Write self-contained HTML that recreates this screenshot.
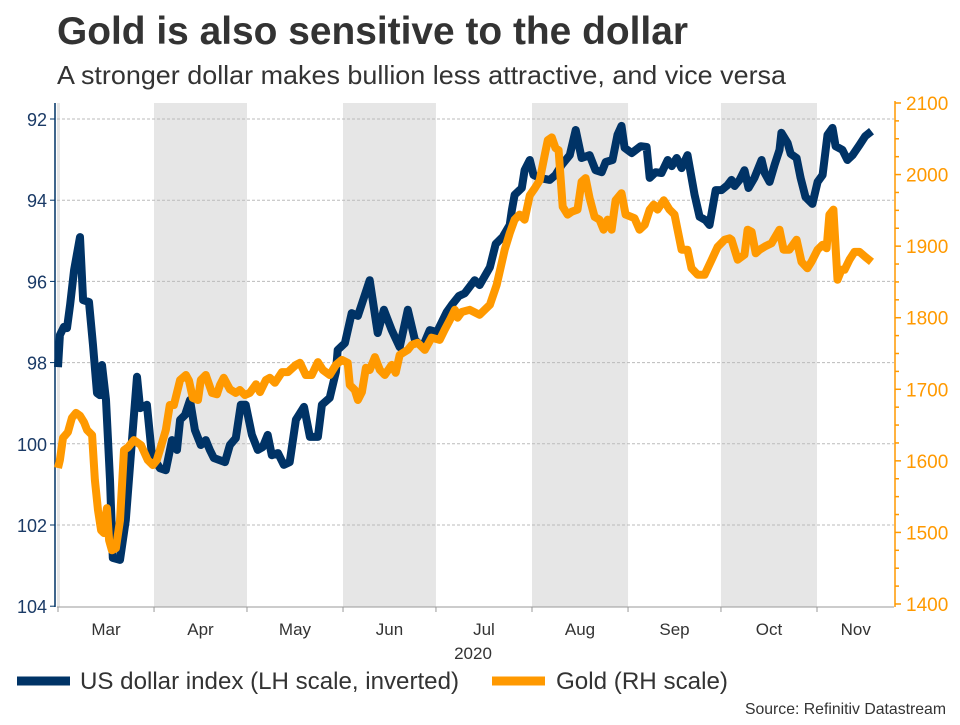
<!DOCTYPE html>
<html><head><meta charset="utf-8"><style>
body{margin:0;background:#fff;width:960px;height:720px;overflow:hidden;font-family:"Liberation Sans",Arial,sans-serif}
</style></head><body>
<svg id="chart" width="960" height="720" xmlns="http://www.w3.org/2000/svg" font-family="Liberation Sans, Arial, sans-serif">
<text x="57" y="44" font-size="38.8" font-weight="bold" fill="#333" textLength="631" lengthAdjust="spacingAndGlyphs">Gold is also sensitive to the dollar</text>
<text x="57" y="84" font-size="26" fill="#333" textLength="729" lengthAdjust="spacingAndGlyphs">A stronger dollar makes bullion less attractive, and vice versa</text>
<g id="bands"></g><g id="grid"></g><g id="axes"></g><g id="series"></g>
<text x="473" y="659" font-size="17" fill="#333" text-anchor="middle">2020</text>
<line x1="17" y1="681" x2="70" y2="681" stroke="#003366" stroke-width="9"/>
<text x="80" y="689" font-size="24" fill="#333" textLength="379" lengthAdjust="spacingAndGlyphs">US dollar index (LH scale, inverted)</text>
<line x1="492" y1="681" x2="545" y2="681" stroke="#ff9900" stroke-width="9"/>
<text x="556" y="689" font-size="24" fill="#333" textLength="172" lengthAdjust="spacingAndGlyphs">Gold (RH scale)</text>
<text x="946" y="714" font-size="15.8" fill="#333" text-anchor="end">Source: Refinitiv Datastream</text>
</svg>
<script>
const monthLabels=["Mar","Apr","May","Jun","Jul","Aug","Sep","Oct","Nov"];
const monthStarts=[0,31,61,92,122,153,184,214,245];
const shadedMonths=[1,3,5,7];
const leftTicks=[92,94,96,98,100,102,104];
const rightTicks=[1400,1500,1600,1700,1800,1900,2000,2100];
const dxyDays=[0,0.6,1.9,2.9,3.9,5.2,7.1,8.1,10,11.3,12.6,13.5,14.2,15.5,16.8,17.7,20,21.9,23.9,25.5,26.5,28.7,30.3,32.9,34.8,36.8,38.4,39.4,41,42.6,44.2,46.1,47.7,49,50.3,53.9,55.5,57.4,59,60.6,62.6,64.5,66.1,67.7,69,71,72.9,74.8,76.8,79.4,81.3,83.9,85.2,87.7,89.7,90.3,92.6,94.8,96.8,100.6,103.2,105.2,107.7,110.3,112.9,115.2,117.7,120,122.3,125.5,127.1,129.4,131.3,134.5,136.1,139.4,141.3,143.5,145.8,146.5,147.4,149,149.7,150.6,152.3,153.5,155.5,158.7,160.6,162.6,165.2,167.1,169,171.6,173.5,175.5,176.8,179,180.6,181.9,182.9,185.2,188.1,190,191,192.9,194.8,196.8,198.1,199.7,201.3,203.2,205.5,207.1,209,210.3,212.3,214.2,216.1,217.4,218.4,220,221.6,222.9,224.8,227.1,228.1,229.7,231.3,232.9,233.5,235.5,236.5,238.4,239.7,241.3,243.5,245.2,246.8,248.4,250,251,253.2,254.8,256.5,258.7,260.6,262.6];
const dxyVals=[98.11,97.32,97.12,97.15,96.58,95.72,94.91,96.46,96.51,97.57,98.75,98.80,98.06,98.92,100.89,102.81,102.86,101.88,99.91,98.35,99.12,99.04,100.28,100.60,100.65,99.91,100.15,99.41,99.29,98.92,99.66,100.03,99.91,100.15,100.35,100.45,100.03,99.86,99.04,99.04,99.78,100.15,100.08,99.78,100.28,100.23,100.52,100.45,99.41,99.09,99.83,99.83,99.04,98.87,98.23,97.69,97.52,96.78,96.85,95.97,97.27,96.70,97.20,97.62,96.70,97.44,97.62,97.20,97.25,96.75,96.58,96.36,96.29,95.97,96.09,95.65,95.08,94.91,94.61,94.24,93.87,93.75,93.70,93.26,93.01,93.38,93.45,93.50,93.38,93.13,92.89,92.27,92.96,92.89,93.26,93.31,93.06,93.01,92.39,92.17,92.71,92.84,92.67,92.69,93.45,93.31,93.33,93.01,93.16,92.96,93.21,92.89,93.87,94.41,94.49,94.61,93.75,93.75,93.63,93.50,93.65,93.50,93.26,93.70,93.45,93.01,93.33,93.55,93.13,92.76,92.34,92.59,92.86,92.96,93.45,93.92,94.09,93.55,93.38,92.39,92.22,92.67,92.76,93.01,92.89,92.64,92.42,92.30];
const goldDays=[0,0.6,1.6,3.2,4.5,5.8,7.1,8.4,9.4,11,11.9,12.9,13.9,14.8,15.8,16.5,17.4,18.7,20,21.3,22.6,24.5,26.8,29,30.6,31.9,32.9,34.8,36.1,37.4,39.4,41.3,42.3,43.5,45.2,46.1,47.7,49.7,51.3,52.3,53.5,55.5,57.4,58.7,60.3,61.9,63.9,65.2,67.1,68.4,70,72.3,74.2,76.8,78.1,80,81.9,83.9,85.5,87.7,89.7,91.6,93.5,94.2,95.8,96.8,98.1,99.4,100.6,102.3,103.9,105.5,107.7,109,110.3,112.9,114.2,116.1,118.4,120.6,123.2,124.8,126.5,128.1,129,130.3,132.9,136.1,139.4,141.6,144.2,145.8,147.4,149,150.6,152.3,153.9,155.5,157.1,158.1,159.4,160.6,161.6,162.9,164.5,165.8,167.7,169,170.3,171.6,173.2,174.8,176.1,177.4,178.7,180,181.9,183.2,186.1,187.7,189.4,191,192.3,193.5,195.5,197.4,199,201.3,203.2,204.5,206.5,208.7,211,212.9,215.2,216.8,217.4,219.4,221.6,222.6,223.9,225.2,226.5,228.4,230.3,232.9,234.2,236.1,238.4,240,241.9,243.2,245.2,246.8,248.1,249,250.3,251.6,252.9,253.9,255.5,257.1,258.7,260.6,262.6];
const goldVals=[1590,1601,1632,1640,1660,1667,1663,1654,1643,1636,1573,1531,1503,1499,1534,1489,1475,1478,1517,1615,1619,1629,1622,1601,1594,1601,1615,1643,1678,1678,1713,1720,1712,1688,1685,1713,1720,1695,1693,1706,1716,1700,1695,1699,1692,1695,1707,1696,1713,1716,1709,1724,1724,1734,1737,1720,1720,1738,1727,1720,1734,1741,1737,1706,1699,1685,1696,1730,1727,1745,1727,1720,1734,1723,1748,1755,1762,1765,1755,1772,1769,1783,1797,1811,1800,1808,1811,1804,1818,1846,1895,1918,1937,1944,1937,1971,1981,1992,2027,2048,2052,2037,2034,1955,1944,1948,1951,1990,1995,1967,1941,1937,1923,1937,1923,1964,1974,1944,1939,1923,1930,1951,1958,1951,1964,1951,1944,1895,1895,1869,1860,1860,1881,1899,1909,1911,1909,1881,1888,1923,1920,1890,1895,1900,1904,1923,1895,1895,1909,1878,1869,1878,1895,1902,1897,1944,1951,1853,1867,1867,1881,1892,1892,1885,1878];

const NS="http://www.w3.org/2000/svg";
const X0=57,X1=894,PT=103,PB=607;
const xScale=d=>58+d*3.098;
const yLeft=v=>119+(v-92)*40.6;
const yRight=v=>103+(2100-v)*0.7157;
function mk(tag,attrs,parent,text){const e=document.createElementNS(NS,tag);for(const k in attrs)e.setAttribute(k,attrs[k]);if(text!==undefined)e.textContent=text;parent.appendChild(e);return e;}
const bands=document.getElementById('bands'),grid=document.getElementById('grid'),axes=document.getElementById('axes'),series=document.getElementById('series');
const eb=mk('rect',{x:X0,y:PT,width:3,height:PB-PT,fill:'#e6e6e6'},bands);


shadedMonths.forEach(i=>{
  const x=xScale(monthStarts[i]),x2=xScale(monthStarts[i+1]);
  const r=mk('rect',{x:x,y:PT,width:x2-x,height:PB-PT,fill:'#e6e6e6'},bands);
  
  
});
leftTicks.forEach(v=>{
  const y=yLeft(v);
  if(v<104){const g=mk('line',{x1:X0,x2:X1,y1:y,y2:y,stroke:'#bbb','stroke-width':1,'stroke-dasharray':'3,2'},grid);
  
  }
  const t=mk('line',{x1:50,x2:55,y1:y,y2:y,stroke:'#003366','stroke-width':1},axes);
  
  
  const l=mk('text',{x:47,y:y+7,'font-size':18,fill:'#1a3a66','text-anchor':'end'},axes,String(v));
  
  
});
const la=mk('line',{x1:55,x2:55,y1:PT,y2:PB,stroke:'#003366','stroke-width':1.5},axes);


const ra=mk('line',{x1:895,x2:895,y1:PT-2,y2:PB,stroke:'#ff9900','stroke-width':1.5},axes);


for(let v=1400;v<=2100;v+=25){
  const y=yRight(v),major=v%100===0;
  const t=mk('line',{x1:895,x2:major?901:899,y1:y,y2:y,stroke:'#ff9900','stroke-width':1.5},axes);
  
  
}
rightTicks.forEach(v=>{
  const l=mk('text',{x:906,y:yRight(v)+7,'font-size':19,fill:'#ff9900'},axes,String(v));
  
  
});
const ba=mk('line',{x1:X0,x2:X1,y1:PB,y2:PB,stroke:'#999','stroke-width':1},axes);


monthLabels.forEach((m,i)=>{
  const x=xScale(monthStarts[i]);
  const t=mk('line',{x1:x,x2:x,y1:PB,y2:PB+5,stroke:'#999'},axes);
  
  
  const end=i+1<monthStarts.length?monthStarts[i+1]:270;
  const l=mk('text',{x:xScale((monthStarts[i]+end)/2),y:635,'font-size':17,fill:'#333','text-anchor':'middle'},axes,m);
  
  
});
function pathFor(days,vals,ys){let d='';const n=Math.min(days.length,vals.length);for(let i=0;i<n;i++)d+=(i?'L':'M')+xScale(days[i]).toFixed(1)+','+ys(vals[i]).toFixed(1);return d;}
const dl=mk('path',{d:pathFor(dxyDays,dxyVals,yLeft),fill:'none',stroke:'#003366','stroke-width':8,'stroke-linejoin':'round'},series);


const gl=mk('path',{d:pathFor(goldDays,goldVals,yRight),fill:'none',stroke:'#ff9900','stroke-width':8,'stroke-linejoin':'round'},series);


</script>
</body></html>
